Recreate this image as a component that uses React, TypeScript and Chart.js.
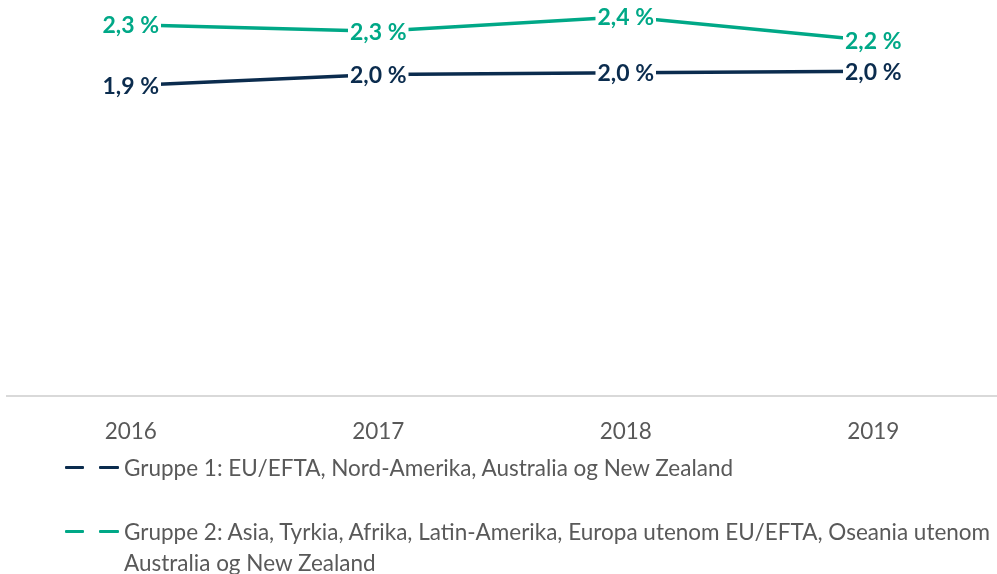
import React, { useEffect, useRef } from "react";
import { Chart, registerables } from "chart.js";

Chart.register(...registerables);

const categories = ["2016", "2017", "2018", "2019"];
const group1Values = [1.94, 2.01, 2.02, 2.03];
const group2Values = [2.32, 2.28, 2.37, 2.22];
const seriesNames = [
  "Gruppe 1: EU/EFTA, Nord-Amerika, Australia og New Zealand",
  "Gruppe 2: Asia, Tyrkia, Afrika, Latin-Amerika, Europa utenom EU/EFTA, Oseania utenom Australia og New Zealand",
];
const seriesColors = ["#0B2C4E", "#00A887"];

const FONT = "Lato, 'Source Sans Pro', sans-serif";

const labelPlugin = {
  id: "valueLabels",
  afterDatasetsDraw(chart: any) {
    const ctx = chart.ctx;
    ctx.save();
    ctx.font = `bold 23px ${FONT}`;
    ctx.textAlign = "center";
    ctx.textBaseline = "middle";
    chart.data.datasets.forEach((ds: any, di: number) => {
      const meta = chart.getDatasetMeta(di);
      meta.data.forEach((pt: any, i: number) => {
        const txt = ds.data[i].toFixed(1).replace(".", ",") + " %";
        const w = ctx.measureText(txt).width;
        ctx.fillStyle = "#ffffff";
        ctx.fillRect(pt.x - w / 2 - 2, pt.y - 12, w + 4, 24);
        ctx.fillStyle = ds.borderColor;
        ctx.fillText(txt, pt.x, pt.y + 1);
      });
    });
    ctx.restore();
  },
};

export default function App() {
  const ref = useRef<HTMLCanvasElement>(null);

  useEffect(() => {
    document.body.style.margin = "0";
    const chart = new Chart(ref.current!, {
      type: "line",
      data: {
        labels: categories,
        datasets: [
          {
            label: seriesNames[0],
            data: group1Values,
            borderColor: seriesColors[0],
            backgroundColor: seriesColors[0],
            borderWidth: 3.5,
            pointRadius: 0,
            tension: 0,
          },
          {
            label: seriesNames[1],
            data: group2Values,
            borderColor: seriesColors[1],
            backgroundColor: seriesColors[1],
            borderWidth: 3.5,
            pointRadius: 0,
            tension: 0,
          },
        ],
      },
      options: {
        animation: false,
        responsive: false,
        maintainAspectRatio: false,
        layout: { padding: { left: 7, right: 0, top: 8, bottom: 0 } },
        plugins: {
          legend: { display: false },
          tooltip: { enabled: false },
        },
        scales: {
          x: {
            offset: true,
            grid: { display: false, drawTicks: false },
            border: { display: true, color: "#D9D9D9", width: 2 },
            ticks: {
              color: "#595959",
              font: { family: FONT, size: 22.5 },
              padding: 22,
            },
            afterFit: (scale: any) => {
              scale.height = 178;
            },
          },
          y: {
            display: false,
            min: 0,
            max: 2.425,
          },
        },
      },
      plugins: [labelPlugin],
    });
    return () => chart.destroy();
  }, []);

  const legendText: React.CSSProperties = {
    position: "absolute",
    left: 124,
    width: 873,
    fontFamily: FONT,
    fontSize: 22.5,
    lineHeight: "31px",
    color: "#595959",
  };

  const dash = (left: number, top: number, color: string, w: number) => (
    <div
      style={{
        position: "absolute",
        left,
        top,
        width: w,
        height: 3,
        background: color,
        borderRadius: 1,
      }}
    />
  );

  return (
    <div style={{ position: "relative", width: 997, height: 574, overflow: "hidden" }}>
      <canvas ref={ref} width={997} height={574} style={{ position: "absolute", left: 0, top: 0 }} />
      {dash(65, 466, seriesColors[0], 19)}
      {dash(99, 466, seriesColors[0], 20)}
      <div style={{ ...legendText, top: 451.5 }}>{seriesNames[0]}</div>
      {dash(65, 530, seriesColors[1], 19)}
      {dash(99, 530, seriesColors[1], 20)}
      <div style={{ ...legendText, top: 515.5 }}>{seriesNames[1]}</div>
    </div>
  );
}
